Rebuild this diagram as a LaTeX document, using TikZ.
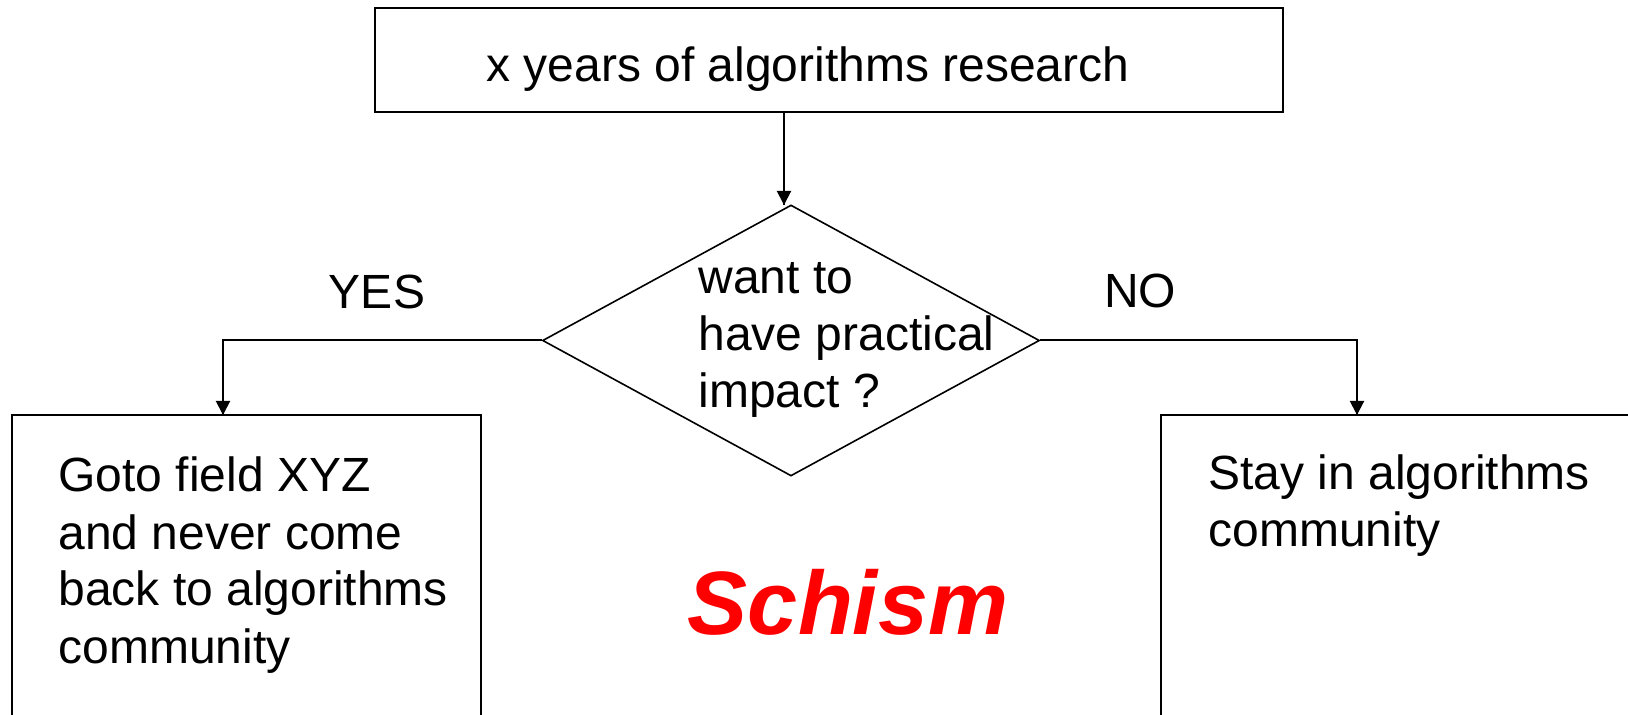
\documentclass[tikz,border=0pt]{standalone}
\usepackage{fontspec}
\setmainfont{Liberation Sans}
\usetikzlibrary{shapes.geometric,arrows.meta,decorations.markings}
\tikzset{flow/.style = {decoration={markings, mark=at position 1 with {\arrow{Triangle[length=7pt,width=7pt]}}}, postaction={decorate}}}

\begin{document}
\begin{tikzpicture}[x=0.5pt,y=-0.5pt,
    box/.style={draw,line width=1pt,inner sep=0pt},
    decision/.style={draw,diamond,line width=0.8pt,inner sep=0pt,
        minimum width=248.5pt,minimum height=135.5pt},
    txt/.style={font={\fontsize{24}{28.5}\selectfont},align=left,
        inner sep=0pt,anchor=base west},
    ]
    \useasboundingbox (0,0) rectangle (1628,715);

    % Boxes and decision
    \node[box,minimum width=454pt,minimum height=52pt] (top) at (829,60) {};
    \node[decision] (q) at (791,340.5) {};
    \node[box,minimum width=234.5pt,minimum height=172.5pt] (left) at (246.5,587.5) {};
    \node[box,minimum width=269.5pt,minimum height=172.5pt] (right) at (1430.5,587.5) {};

    % Texts (base = last line)
    \node[txt] (toptext) at (486,82) {x years of algorithms research};
    \node[txt] (qtext) at (698,408) {want to\\have practical\\impact ?};
    \node[txt] (lefttext) at (58,663) {Goto field XYZ\\and never come\\back to algorithms\\community};
    \node[txt] (righttext) at (1208,547) {Stay in algorithms\\community};
    \node[txt,anchor=base] (yes) at (377,309) {YES};
    \node[txt,anchor=base] (no) at (1140,308) {NO};
    \node[anchor=base,inner sep=0pt,text=red,
        font={\fontsize{45}{50}\selectfont\bfseries\itshape}] (schism) at (848,635) {Schism};

    % Arrows
    \coordinate (qin) at (784,205);
    \coordinate (ydrop) at (223,415);
    \coordinate (ndrop) at (1357,415);
    \draw[line width=1pt,flow] (qin |- top.south) -- (qin);
    \draw[line width=1pt,flow] (q.west) -| (ydrop);
    \draw[line width=1pt,flow] (q.east) -| (ndrop);

\end{tikzpicture}
\end{document}
